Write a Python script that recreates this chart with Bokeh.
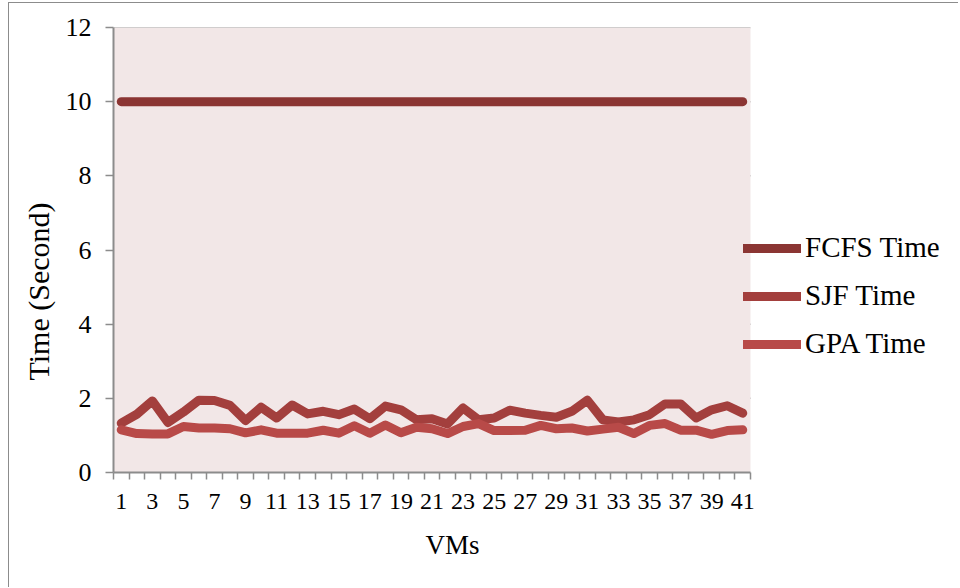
from bokeh.plotting import figure
from bokeh.models import FixedTicker, Legend, LegendItem, Range1d, BoxAnnotation, Title
from bokeh.embed import file_html
from bokeh.resources import INLINE

vms = list(range(1, 42))
fcfs = [10, 10, 10, 10, 10, 10, 10, 10, 10, 10,
        10, 10, 10, 10, 10, 10, 10, 10, 10, 10,
        10, 10, 10, 10, 10, 10, 10, 10, 10, 10,
        10, 10, 10, 10, 10, 10, 10, 10, 10, 10, 10]
sjf = [1.33, 1.57, 1.93, 1.35, 1.63, 1.95, 1.94, 1.81, 1.40, 1.76,
       1.47, 1.82, 1.58, 1.65, 1.56, 1.71, 1.45, 1.79, 1.69, 1.42,
       1.45, 1.31, 1.74, 1.42, 1.47, 1.68, 1.60, 1.54, 1.49, 1.65,
       1.95, 1.42, 1.36, 1.42, 1.56, 1.85, 1.85, 1.47, 1.69, 1.80, 1.60]
gpa = [1.15, 1.05, 1.04, 1.04, 1.24, 1.20, 1.20, 1.18, 1.07, 1.15,
       1.06, 1.06, 1.06, 1.14, 1.06, 1.26, 1.06, 1.28, 1.07, 1.22,
       1.18, 1.05, 1.24, 1.32, 1.13, 1.13, 1.14, 1.27, 1.18, 1.20,
       1.12, 1.17, 1.22, 1.05, 1.27, 1.32, 1.14, 1.14, 1.03, 1.13, 1.15]
series_names = ["FCFS Time", "SJF Time", "GPA Time"]
y_ticks = [0, 2, 4, 6, 8, 10, 12]
x_label_ticks = [1, 3, 5, 7, 9, 11, 13, 15, 17, 19, 21, 23, 25, 27, 29, 31, 33, 35, 37, 39, 41]
x_title = "VMs"
y_title = "Time (Second)"

colors = ["#8b3533", "#a33f3d", "#b84a48"]
FONT = "Liberation Serif"
GRAY = "#8c8c8c"

W, H = 950, 585
LEFT, RIGHT, TOP, BOTTOM = 104, 5, 24, 116
PLOT_W = 637  # pixel width of the category area
frame_w = W - LEFT - RIGHT
x_lo, x_hi = 0.5, 41.5
x_end = x_lo + (x_hi - x_lo) * frame_w / PLOT_W

p = figure(width=W, height=H, output_backend="svg", toolbar_location=None,
           x_range=Range1d(x_lo, x_end), y_range=Range1d(0, 12),
           min_border_left=LEFT, min_border_right=RIGHT, min_border_top=TOP, min_border_bottom=BOTTOM,
           background_fill_color="white", border_fill_color="white",
           styles={"margin-left": "8px", "margin-top": "2px",
                   "border-left": "1.5px solid #8c8c8c", "border-top": "1.5px solid #8c8c8c"})
p.outline_line_color = None

p.add_layout(BoxAnnotation(left=x_lo, right=x_hi, bottom=0, top=12,
                           fill_color="#f2e7e7", fill_alpha=1, line_color=None, level="underlay"))

# horizontal gridlines limited to the category area
grid_y = [t for t in y_ticks if t > 0]
p.segment(x0=[x_lo] * len(grid_y), y0=grid_y, x1=[x_hi] * len(grid_y), y1=grid_y,
          line_color=GRAY, line_width=1.5, level="underlay")

renderers = []
for vals, col in zip([fcfs, sjf, gpa], colors):
    r = p.line(vms, vals, line_color=col, line_width=9, line_cap="round", line_join="round")
    renderers.append(r)

# axes
p.xaxis.bounds = (x_lo, x_hi)
p.xaxis.ticker = FixedTicker(ticks=x_label_ticks, minor_ticks=[i + 0.5 for i in range(0, 42)])
p.xaxis.major_tick_line_color = None
p.xaxis.major_tick_out = 7
p.xaxis.major_tick_in = 0
p.xaxis.minor_tick_line_color = GRAY
p.xaxis.minor_tick_line_width = 1.5
p.xaxis.minor_tick_out = 7
p.xaxis.minor_tick_in = 0
p.xaxis.axis_line_color = GRAY
p.xaxis.axis_line_width = 2
p.xaxis.major_label_text_font = FONT
p.xaxis.major_label_text_font_size = "24px"
p.xaxis.major_label_text_color = "black"
p.xaxis.major_label_standoff = 14

p.yaxis.ticker = FixedTicker(ticks=y_ticks)
p.yaxis.minor_tick_line_color = None
p.yaxis.major_tick_line_color = GRAY
p.yaxis.major_tick_line_width = 1.5
p.yaxis.major_tick_out = 8
p.yaxis.major_tick_in = 0
p.yaxis.axis_line_color = GRAY
p.yaxis.axis_line_width = 2
p.yaxis.major_label_text_font = FONT
p.yaxis.major_label_text_font_size = "26px"
p.yaxis.major_label_text_color = "black"
p.yaxis.major_label_standoff = 14

p.xgrid.grid_line_color = None
p.ygrid.grid_line_color = None

# axis titles as side-panel titles so they can sit off-centre like the reference
p.add_layout(Title(text=x_title, align="left", offset=312, standoff=32,
                   text_font=FONT, text_font_size="27px", text_font_style="normal",
                   text_color="black"), "below")
p.add_layout(Title(text=y_title, align="left", offset=92, standoff=16,
                   text_font=FONT, text_font_size="30px", text_font_style="normal",
                   text_color="black"), "left")

legend = Legend(items=[LegendItem(label=n, renderers=[r]) for n, r in zip(series_names, renderers)],
                location=(630, 112), orientation="vertical",
                label_text_font=FONT, label_text_font_size="29px", label_text_color="black",
                glyph_width=58, glyph_height=30, label_height=30, spacing=15,
                label_standoff=4, padding=0, margin=0,
                border_line_color=None, background_fill_alpha=0)
p.add_layout(legend, "center")

open("out.html", "w").write(file_html(p, INLINE))
